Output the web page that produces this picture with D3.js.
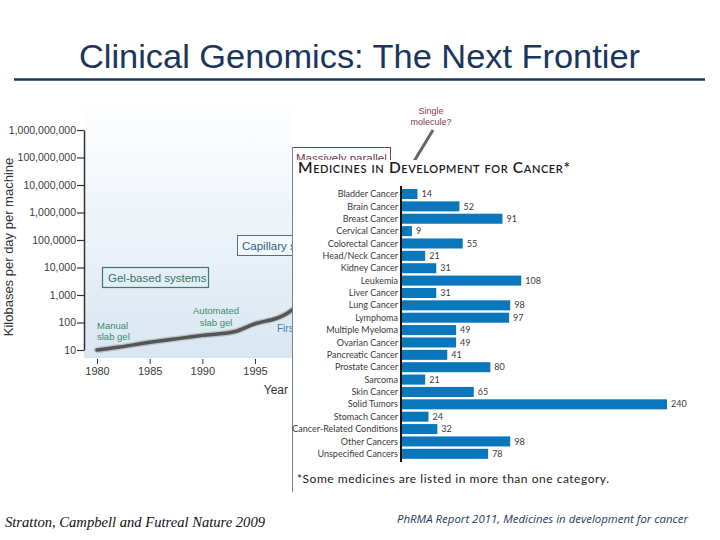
<!DOCTYPE html>
<html>
<head>
<meta charset="utf-8">
<script src="https://cdn.jsdelivr.net/npm/d3@7"></script>
<style>
  html, body { margin: 0; padding: 0; background: #ffffff; }
  svg { display: block; }
</style>
</head>
<body>
<svg id="chart" width="720" height="540"></svg>
<script>
// ---------- data ----------
const slideTitle = "Clinical Genomics: The Next Frontier";

// background chart: sequencing throughput (visible part)
const seqYears = [1980, 1982, 1985, 1988, 1990, 1993, 1995, 1997, 1998, 1999];
const seqKb    = [10, 12.5, 19, 27, 34, 46, 90, 140, 210, 400];
const yTickValues = [10, 100, 1e3, 1e4, 1e5, 1e6, 1e7, 1e8, 1e9];
const yTickLabels = ["10", "100", "1,000", "10,000", "100,0000", "1,000,000", "10,000,000", "100,000,000", "1,000,000,000"];
const xTickValues = [1980, 1985, 1990, 1995];

// overlay bar chart
const categories = ["Bladder Cancer", "Brain Cancer", "Breast Cancer", "Cervical Cancer", "Colorectal Cancer",
  "Head/Neck Cancer", "Kidney Cancer", "Leukemia", "Liver Cancer", "Lung Cancer", "Lymphoma",
  "Multiple Myeloma", "Ovarian Cancer", "Pancreatic Cancer", "Prostate Cancer", "Sarcoma",
  "Skin Cancer", "Solid Tumors", "Stomach Cancer", "Cancer-Related Conditions", "Other Cancers",
  "Unspecified Cancers"];
const medicines = [14, 52, 91, 9, 55, 21, 31, 108, 31, 98, 97, 49, 49, 41, 80, 21, 65, 240, 24, 32, 98, 78];

// ---------- drawing ----------
const svg = d3.select("#chart");
const defs = svg.append("defs");
const grad = defs.append("linearGradient").attr("id", "plotbg")
  .attr("x1", 0).attr("y1", 0).attr("x2", 0).attr("y2", 1);
grad.append("stop").attr("offset", "0%").attr("stop-color", "#ffffff");
grad.append("stop").attr("offset", "100%").attr("stop-color", "#d9e6f2");
defs.append("clipPath").attr("id", "leftclip")
  .append("rect").attr("x", 0).attr("y", 0).attr("width", 292).attr("height", 540);
defs.append("clipPath").attr("id", "topclip")
  .append("rect").attr("x", 0).attr("y", 0).attr("width", 720).attr("height", 160);

// Title
svg.append("text")
  .attr("x", 79).attr("y", 68)
  .attr("font-family", "Arial, 'Liberation Sans', sans-serif")
  .attr("font-size", 33)
  .attr("fill", "#1b365d")
  .attr("textLength", 561).attr("lengthAdjust", "spacingAndGlyphs")
  .text(slideTitle);
svg.append("line")
  .attr("x1", 14).attr("x2", 705).attr("y1", 79.5).attr("y2", 79.5)
  .attr("stroke", "#1b365d").attr("stroke-width", 2.5);

// ---- background line chart ----
const xS = d3.scaleLinear().domain([1980, 2010]).range([97, 413]);
const yS = d3.scaleLog().domain([10, 1e9]).range([350, 130]);

const bg = svg.append("g").attr("clip-path", "url(#leftclip)");

bg.append("rect")
  .attr("x", 84).attr("y", 98).attr("width", 330).attr("height", 260)
  .attr("fill", "url(#plotbg)");

const yAxis = d3.axisLeft(yS).tickValues(yTickValues)
  .tickFormat((d, i) => yTickLabels[i]).tickSize(7).tickSizeOuter(0);
const gy = bg.append("g").attr("transform", "translate(84,0)").call(yAxis);
gy.select(".domain").attr("stroke", "#333").attr("stroke-width", 1.5);
gy.selectAll(".tick line").attr("stroke", "#333").attr("stroke-width", 1.2);
gy.selectAll(".tick text").attr("font-family", "Arial, 'Liberation Sans', sans-serif")
  .attr("font-size", 10.5).attr("fill", "#3a3a3a").attr("x", -8);

const xAxis = d3.axisBottom(xS).tickValues(xTickValues).tickFormat(d3.format("d"))
  .tickSize(6).tickSizeOuter(0);
const gx = bg.append("g").attr("transform", "translate(0,359)").call(xAxis);
gx.select(".domain").remove();
gx.selectAll(".tick line").attr("stroke", "#333").attr("y1", 0).attr("y2", 5);
gx.selectAll(".tick text").attr("font-family", "Arial, 'Liberation Sans', sans-serif")
  .attr("font-size", 11).attr("fill", "#3a3a3a").attr("y", 8);

bg.append("text")
  .attr("transform", "translate(13,247) rotate(-90)")
  .attr("text-anchor", "middle")
  .attr("font-family", "Arial, 'Liberation Sans', sans-serif")
  .attr("font-size", 13).attr("fill", "#333")
  .text("Kilobases per day per machine");
bg.append("text")
  .attr("x", 288).attr("y", 394).attr("text-anchor", "end")
  .attr("font-family", "Arial, 'Liberation Sans', sans-serif")
  .attr("font-size", 12).attr("fill", "#333")
  .text("Year");

const line = d3.line().x((d, i) => xS(seqYears[i])).y(d => yS(d)).curve(d3.curveCatmullRom.alpha(0.5));
bg.append("path").datum(seqKb)
  .attr("d", line).attr("fill", "none")
  .attr("stroke", "#a0a0a0").attr("stroke-width", 6).attr("stroke-linecap", "round").attr("opacity", 0.55);
bg.append("path").datum(seqKb)
  .attr("d", line).attr("fill", "none")
  .attr("stroke", "#555").attr("stroke-width", 3.5).attr("stroke-linecap", "round");

const annFont = "Arial, 'Liberation Sans', sans-serif";
// Gel-based systems box
bg.append("rect").attr("x", 102.5).attr("y", 267.5).attr("width", 106).attr("height", 20)
  .attr("fill", "none").attr("stroke", "#3c7c70").attr("stroke-width", 1.2);
bg.append("text").attr("x", 108).attr("y", 282).attr("font-family", annFont)
  .attr("font-size", 11.5).attr("fill", "#2d7a62").text("Gel-based systems");
// Manual slab gel
bg.append("text").attr("x", 97).attr("y", 329).attr("font-family", annFont)
  .attr("font-size", 9.5).attr("fill", "#3d8c6c")
  .selectAll("tspan").data(["Manual", "slab gel"]).join("tspan")
  .attr("x", 97).attr("dy", (d, i) => i ? 11 : 0).text(d => d);
// Automated slab gel
bg.append("text").attr("x", 216).attr("y", 314).attr("text-anchor", "middle").attr("font-family", annFont)
  .attr("font-size", 9.5).attr("fill", "#3d8c6c")
  .selectAll("tspan").data(["Automated", "slab gel"]).join("tspan")
  .attr("x", 216).attr("dy", (d, i) => i ? 12 : 0).text(d => d);
// First ... (cut by the overlay)
bg.append("text").attr("x", 277).attr("y", 332).attr("font-family", annFont)
  .attr("font-size", 10).attr("fill", "#3a80c0").text("Firs");
// Capillary box (cut by the overlay)
bg.append("rect").attr("x", 237.5).attr("y", 235.5).attr("width", 120).attr("height", 20)
  .attr("fill", "#f4f8fc").attr("stroke", "#4f6f8f").attr("stroke-width", 1);
bg.append("text").attr("x", 242).attr("y", 250).attr("font-family", annFont)
  .attr("font-size", 11.5).attr("fill", "#2d5f8d").text("Capillary s");

// Massively parallel box (mostly hidden by the overlay)
const topG = svg.append("g").attr("clip-path", "url(#topclip)");
topG.append("rect").attr("x", 292.5).attr("y", 147.5).attr("width", 98).attr("height", 40)
  .attr("fill", "#ffffff").attr("stroke", "#8c3c4c").attr("stroke-width", 1);
topG.append("text").attr("x", 296).attr("y", 162).attr("font-family", annFont)
  .attr("font-size", 11.5).attr("fill", "#6a3a48").text("Massively parallel");
// Single molecule?
svg.append("text").attr("x", 431).attr("y", 114).attr("text-anchor", "middle").attr("font-family", annFont)
  .attr("font-size", 9).attr("fill", "#8a3a52")
  .selectAll("tspan").data(["Single", "molecule?"]).join("tspan")
  .attr("x", 431).attr("dy", (d, i) => i ? 11 : 0).text(d => d);
topG.append("line").attr("x1", 433).attr("y1", 130).attr("x2", 413).attr("y2", 163)
  .attr("stroke", "#666").attr("stroke-width", 3);

// ---- overlay panel ----
svg.append("line").attr("x1", 292.5).attr("x2", 292.5).attr("y1", 147).attr("y2", 492)
  .attr("stroke", "#6f8799").attr("stroke-width", 1);

const panelFont = "Lato, 'Open Sans', 'DejaVu Sans', sans-serif";
svg.append("text").attr("x", 298).attr("y", 173)
  .attr("font-family", panelFont).attr("font-size", 15.5).attr("font-weight", 600)
  .attr("fill", "#1a1a1a").style("font-variant", "small-caps")
  .attr("textLength", 272).attr("lengthAdjust", "spacing")
  .text("Medicines in Development for Cancer*");

const yB = d3.scaleBand().domain(categories).range([187.8, 460]).paddingInner(0.19).paddingOuter(0.095);
const xB = d3.scaleLinear().domain([0, 240]).range([402, 667]);

svg.append("g").selectAll("rect").data(medicines).join("rect")
  .attr("x", xB(0))
  .attr("y", (d, i) => yB(categories[i]))
  .attr("width", d => xB(d) - xB(0))
  .attr("height", yB.bandwidth())
  .attr("fill", "#0a77bd");

svg.append("g").selectAll("text").data(categories).join("text")
  .attr("x", 398)
  .attr("y", d => yB(d) + yB.bandwidth() / 2)
  .attr("dy", "0.35em")
  .attr("text-anchor", "end")
  .attr("font-family", panelFont).attr("font-size", 9).attr("fill", "#3a3a3a")
  .text(d => d);

svg.append("g").selectAll("text").data(medicines).join("text")
  .attr("x", d => xB(d) + 4)
  .attr("y", (d, i) => yB(categories[i]) + yB.bandwidth() / 2)
  .attr("dy", "0.35em")
  .attr("font-family", panelFont).attr("font-size", 9).attr("fill", "#3a3a3a")
  .text(d => d);

svg.append("line").attr("x1", 401).attr("x2", 401).attr("y1", 186).attr("y2", 462)
  .attr("stroke", "#111").attr("stroke-width", 2);

svg.append("text").attr("x", 297).attr("y", 483)
  .attr("font-family", panelFont).attr("font-size", 12).attr("fill", "#222")
  .attr("textLength", 312).attr("lengthAdjust", "spacing")
  .text("*Some medicines are listed in more than one category.");

// ---- footers ----
svg.append("text").attr("x", 5).attr("y", 527)
  .attr("font-family", "'Liberation Serif', 'Times New Roman', serif")
  .attr("font-style", "italic").attr("font-size", 14.5).attr("fill", "#111")
  .attr("textLength", 260).attr("lengthAdjust", "spacingAndGlyphs")
  .text("Stratton, Campbell and Futreal Nature 2009");
svg.append("text").attr("x", 397).attr("y", 523)
  .attr("font-family", "'Open Sans', 'DejaVu Sans', sans-serif")
  .attr("font-style", "italic").attr("font-size", 11).attr("fill", "#1f3a5a")
  .attr("textLength", 291).attr("lengthAdjust", "spacingAndGlyphs")
  .text("PhRMA Report 2011, Medicines in development for cancer");
</script>
</body>
</html>
